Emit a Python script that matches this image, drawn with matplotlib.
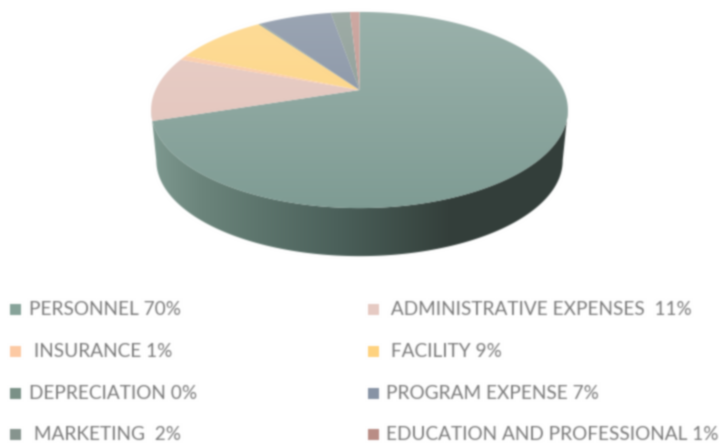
import numpy as np
import matplotlib
matplotlib.use('Agg')
import matplotlib.pyplot as plt
from matplotlib.patches import Polygon, Rectangle
from matplotlib.colors import to_rgb

# 数据
labels = ['PERSONNEL 70%', ' ADMINISTRATIVE EXPENSES  11%', ' INSURANCE 1%', ' FACILITY 9%',
          'DEPRECIATION 0%', 'PROGRAM EXPENSE 7%', ' MARKETING  2%', 'EDUCATION AND PROFESSIONAL 1%']
values = [70.0, 10.6, 0.8, 8.8, 0.2, 6.9, 1.8, 0.9]
slice_colors = ['#7f9c94', '#e2c2b9', '#fbc6a0', '#fdd27c', '#7e9389', '#7f8c9e', '#84958e', '#c09189']
legend_colors = ['#87a399', '#e6cac3', '#fcc9a3', '#fed27f', '#7a9187', '#8793a5', '#86948e', '#b98d85']

# 布局
W, H = 719, 444
APEX = (359.5, 90)
A, B, K = 204, 94, 0.204
SIDE_SCALE, SIDE_DROP = 0.975, 51
legend_rows = [309, 351, 393, 434]
legend_cols = [(10, 29), (368, 386)]
text_color = '#7a7a7a'


def rim(theta, scale=1.0, drop=0):
    # 圆盘透视投影,theta从正上方顺时针
    x, y = np.sin(theta), np.cos(theta)
    d = 1 + K * y
    return np.column_stack((APEX[0] + scale * A * x / d,
                            APEX[1] + drop - scale * B * y / d))


def blur(image, dpi, sigma=0.85):
    r = 3
    kernel = np.exp(-0.5 * (np.arange(-r, r + 1) / sigma) ** 2)
    kernel /= kernel.sum()
    out = np.pad(image, ((r, r), (r, r), (0, 0)), mode='edge')
    out = np.apply_along_axis(np.convolve, 0, out, kernel, mode='same')
    out = np.apply_along_axis(np.convolve, 1, out, kernel, mode='same')
    return out[r:-r, r:-r], 0, 0


fig = plt.figure(figsize=(W / 100, H / 100), dpi=100)
ax = fig.add_axes([0, 0, 1, 1])
ax.set_xlim(0, W)
ax.set_ylim(H, 0)
ax.axis('off')
ax.set_agg_filter(blur)
ax.add_patch(Rectangle((0, 0), W, H, fc='white', ec='none', zorder=0))

# 侧面,横向渐变,两端取椭圆左右极值点
tangent = np.degrees(np.arccos(-K))
theta = np.radians(np.linspace(tangent, 360 - tangent, 200))
side = Polygon(np.vstack((rim(theta), rim(theta, SIDE_SCALE, SIDE_DROP)[::-1])),
               closed=True, fc='none', ec='none', transform=ax.transData)
ax.add_patch(side)
xs = np.linspace(150, 570, 420)
stops_x = [150, 200, 260, 340, 420, 450, 570]
stops = np.array([to_rgb(c) for c in ['#7f9a91', '#6c857c', '#5d756d', '#4b605a', '#3a4843', '#343f3b', '#333e3a']])
grad = np.stack([np.interp(xs, stops_x, stops[:, i]) for i in range(3)], axis=-1)[None, :, :]
im = ax.imshow(grad, extent=(150, 570, 270, 100), aspect='auto', zorder=1)
im.set_clip_path(side)

# 顶面,每块竖向渐变
top_y, bottom_y = 12, 208
start = 0.0
for val, col in zip(values, slice_colors):
    end = start + val
    theta = np.radians(np.linspace(start, end, max(int(val * 8), 4)) * 3.6)
    wedge = Polygon(np.vstack(([APEX], rim(theta))), closed=True, fc='none', ec='none',
                    transform=ax.transData)
    ax.add_patch(wedge)
    mix = np.linspace(0.22, 0, 100)[:, None, None]
    rgb = np.array(to_rgb(col))[None, None, :]
    im = ax.imshow(rgb * (1 - mix) + mix, extent=(140, 580, bottom_y + 2, top_y - 2),
                   aspect='auto', zorder=2)
    im.set_clip_path(wedge)
    start = end

ax.set_xlim(0, W)
ax.set_ylim(H, 0)

# 图例
for i, (label, col) in enumerate(zip(labels, legend_colors)):
    row, side_no = i // 2, i % 2
    y = legend_rows[row]
    mx, tx = legend_cols[side_no]
    ax.add_patch(Rectangle((mx, y - 5.5), 11, 11, fc=col, ec='none', zorder=3))
    ax.text(tx, y, label, family='Lato', fontsize=13.7, color=text_color, va='center', ha='left', zorder=3)

fig.savefig('out.png', dpi=100)
